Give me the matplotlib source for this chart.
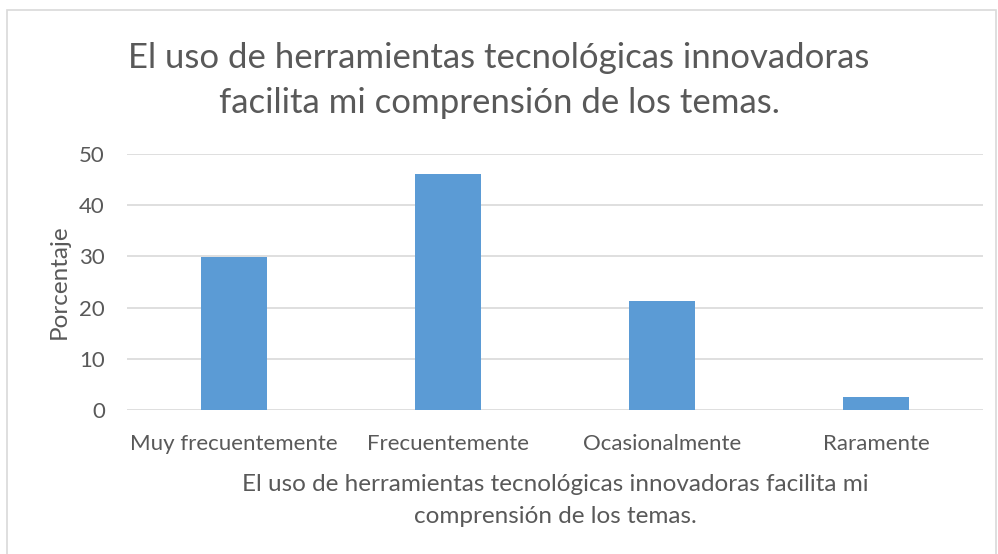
import matplotlib
matplotlib.use("Agg")
import matplotlib.pyplot as plt
from matplotlib.patches import Rectangle

categories = ["Muy frecuentemente", "Frecuentemente", "Ocasionalmente", "Raramente"]
values = [29.8, 46.1, 21.3, 2.5]
yticks = [0, 10, 20, 30, 40, 50]
title = "El uso de herramientas tecnológicas innovadoras\nfacilita mi comprensión de los temas."
xlabel = "El uso de herramientas tecnológicas innovadoras facilita mi\ncomprensión de los temas."
ylabel = "Porcentaje"

W, H = 998, 554
plt.rcParams['font.family'] = ['Lato', 'DejaVu Sans']
fig = plt.figure(figsize=(W / 100, H / 100), dpi=100)
fig.patch.set_facecolor("white")

# chart frame
fig.patches.append(Rectangle((7 / W, -0.05), (996 - 7) / W, (H - 10) / H + 0.05,
                             transform=fig.transFigure, fill=False,
                             edgecolor="#d9d9d9", linewidth=1.2))

x0, x1 = 127, 983
y0, y1 = 410, 154
ax = fig.add_axes([x0 / W, 1 - y0 / H, (x1 - x0) / W, (y0 - y1) / H])
text_c = "#595959"
ax.bar(range(len(categories)), values, width=0.313, color="#5b9bd5", zorder=3)
ax.set_xlim(-0.5, len(categories) - 0.5)
ax.set_ylim(0, 50)
ax.set_yticks(yticks)
ax.set_xticks(range(len(categories)))
ax.set_xticklabels(categories, fontsize=16, color=text_c)
ax.tick_params(axis="y", labelsize=16, labelcolor=text_c, length=0, pad=16)
ax.tick_params(axis="x", length=0, pad=17)
ax.grid(axis="y", color="#d9d9d9", linewidth=1.2, zorder=0)
for s in ax.spines.values():
    s.set_visible(False)
ax.set_ylabel(ylabel, fontsize=17.5, color=text_c, labelpad=7)
ax.set_xlabel(xlabel, fontsize=17.5, color=text_c, labelpad=15, linespacing=1.65)

fig.text(0.5, 1 - 80 / H, title, ha="center", va="center", fontsize=25,
         color=text_c, linespacing=1.5)

fig.savefig("out.png", dpi=100)
